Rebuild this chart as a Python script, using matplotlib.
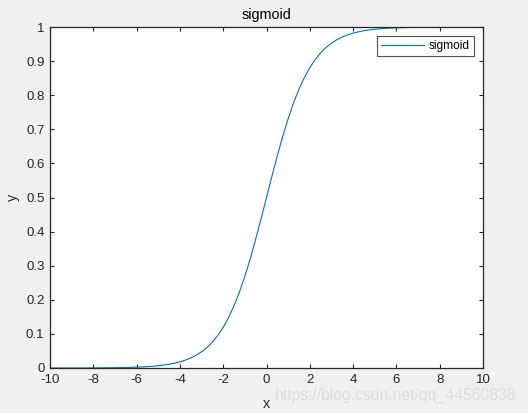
import matplotlib
matplotlib.use("Agg")
import matplotlib.pyplot as plt

# Values (finer step where it bends)
x_vals = [-10.0, -9.5, -9.0, -8.5, -8.0, -7.5, -7.0, -6.5,
          -6.0, -5.75, -5.5, -5.25, -5.0, -4.75, -4.5, -4.25, -4.0, -3.75, -3.5, -3.25,
          -3.0, -2.75, -2.5, -2.25, -2.0, -1.75, -1.5, -1.25, -1.0, -0.75, -0.5, -0.25,
          0.0, 0.25, 0.5, 0.75, 1.0, 1.25, 1.5, 1.75, 2.0, 2.25, 2.5, 2.75,
          3.0, 3.25, 3.5, 3.75, 4.0, 4.25, 4.5, 4.75, 5.0, 5.25, 5.5, 5.75, 6.0,
          6.5, 7.0, 7.5, 8.0, 8.5, 9.0, 9.5, 10.0]
y_vals = [0.0000, 0.0001, 0.0001, 0.0002, 0.0003, 0.0006, 0.0009, 0.0015,
          0.0025, 0.0032, 0.0041, 0.0052, 0.0067, 0.0086, 0.0110, 0.0141, 0.0180, 0.0230, 0.0293, 0.0373,
          0.0474, 0.0601, 0.0759, 0.0954, 0.1192, 0.1481, 0.1824, 0.2227, 0.2689, 0.3208, 0.3775, 0.4378,
          0.5000, 0.5622, 0.6225, 0.6792, 0.7311, 0.7773, 0.8176, 0.8519, 0.8808, 0.9046, 0.9241, 0.9399,
          0.9526, 0.9627, 0.9707, 0.9770, 0.9820, 0.9859, 0.9890, 0.9914, 0.9933, 0.9948, 0.9959, 0.9968, 0.9975,
          0.9985, 0.9991, 0.9994, 0.9997, 0.9998, 0.9999, 0.9999, 1.0000]
x_ticks = [-10, -8, -6, -4, -2, 0, 2, 4, 6, 8, 10]
y_ticks = [0, 0.1, 0.2, 0.3, 0.4, 0.5, 0.6, 0.7, 0.8, 0.9, 1.0]
y_tick_labels = ["0", "0.1", "0.2", "0.3", "0.4", "0.5", "0.6", "0.7", "0.8", "0.9", "1"]
x_tick_labels = ["-10", "-8", "-6", "-4", "-2", "0", "2", "4", "6", "8", "10"]

plt.rcParams['font.family'] = ['Liberation Sans', 'DejaVu Sans']
axc = '#262626'

fig = plt.figure(figsize=(5.28, 4.13), dpi=100, facecolor='#f0f0f0')
ax = fig.add_axes([50/528, 1 - 368/413, 433/528, 341/413])
ax.set_facecolor('white')

ax.plot(x_vals, y_vals, color='#0072BD', linewidth=0.8, label='sigmoid')

ax.set_xlim(-10, 10)
ax.set_ylim(0, 1)
ax.set_xticks(x_ticks)
ax.set_xticklabels(x_tick_labels)
ax.set_yticks(y_ticks)
ax.set_yticklabels(y_tick_labels)
ax.tick_params(direction='in', length=3, width=0.8, colors=axc, labelsize=9.5,
               top=True, right=True, pad=4)
for s in ax.spines.values():
    s.set_color(axc)
    s.set_linewidth(0.9)

ax.set_title('sigmoid', fontsize=10.4, color='black', pad=5.5)
ax.set_xlabel('x', fontsize=10.4, color=axc, labelpad=8)
ax.set_ylabel('y', fontsize=10.4, color=axc, labelpad=4)

leg = ax.legend(loc='upper right', fontsize=8.6, frameon=True, fancybox=False,
                edgecolor=axc, handlelength=3.6, handletextpad=0.4,
                borderpad=0.35, borderaxespad=0.75)
leg.get_frame().set_linewidth(0.8)

fig.text(0.52, 1 - 395/413, 'https://blog.csdn.net/qq_44560838', fontsize=11.3,
         color='#dcdcdc', ha='left', va='center')

fig.savefig('out.png', dpi=100, facecolor=fig.get_facecolor())
